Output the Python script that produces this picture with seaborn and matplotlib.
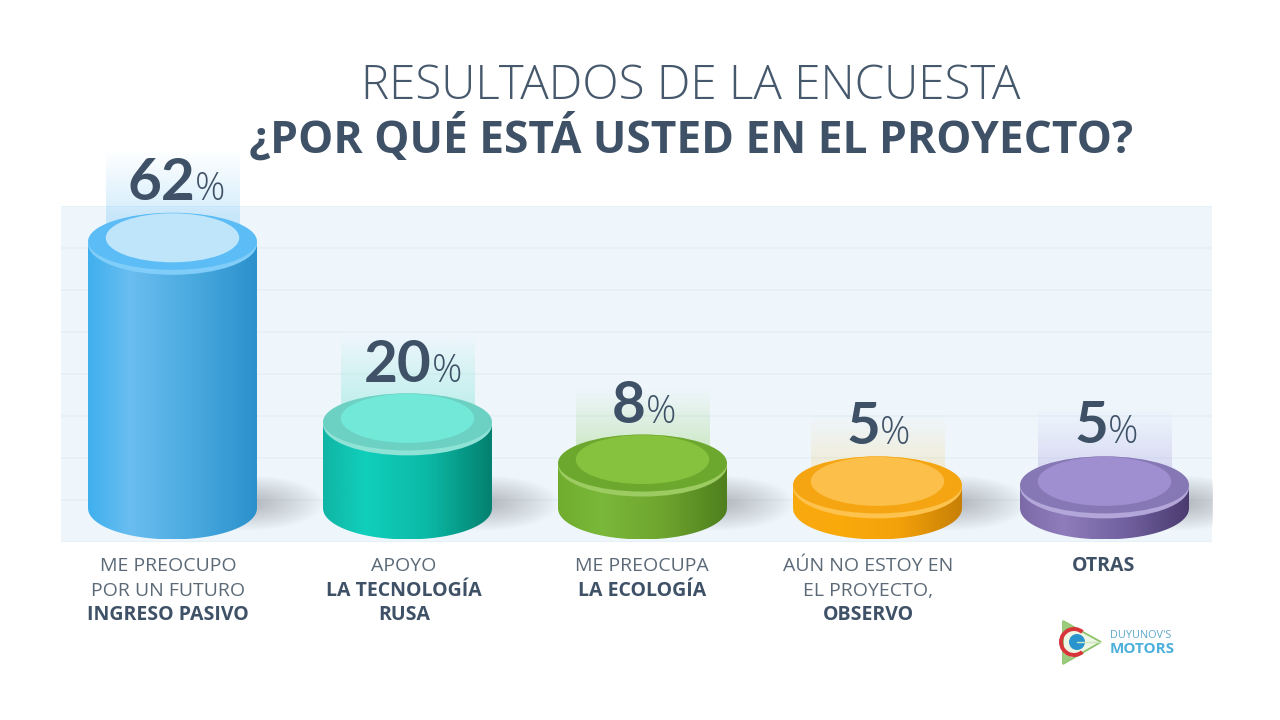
import numpy as np
import pandas as pd
import matplotlib
matplotlib.use("Agg")
import matplotlib.pyplot as plt
import seaborn as sns
from matplotlib.colors import LinearSegmentedColormap, to_rgb
from matplotlib.patches import Ellipse, Circle, Polygon, Wedge
from matplotlib.path import Path

# ---- data ----
categories = ["Ingreso pasivo", "Tecnología rusa", "Ecología", "Observo", "Otras"]
percent_labels = [62, 20, 8, 5, 5]
drawn_heights = [63, 20, 10.2, 5, 5]      # cylinders in the source are not to scale
category_pos = [0, 1, 2, 3, 3.966]
label_lines = [
    [("ME PREOCUPO", False), ("POR UN FUTURO", False), ("INGRESO PASIVO", True)],
    [("APOYO", False), ("LA TECNOLOGÍA", True), ("RUSA", True)],
    [("ME PREOCUPA", False), ("LA ECOLOGÍA", True)],
    [("AÚN NO ESTOY EN", False), ("EL PROYECTO,", False), ("OBSERVO", True)],
    [("OTRAS", True)],
]
title_1 = "RESULTADOS DE LA ENCUESTA"
title_2 = "¿POR QUÉ ESTÁ USTED EN EL PROYECTO?"

# ---- style ----
side_stops = [
    ["#3fb0ee", "#6abdf0", "#4aaadf", "#2b90cc"],
    ["#10b5a5", "#10cfbb", "#0bb9a6", "#04806f"],
    ["#70ad2f", "#7ab83a", "#6ea52e", "#4f7f1e"],
    ["#f8a90f", "#fbaa0c", "#f4a20a", "#c77f05"],
    ["#7c6aa8", "#8e7dba", "#7261a0", "#4a3b6f"],
]
cap_edge = ["#7fcdf8", "#8fe3d6", "#9ccb62", "#fdc34e", "#b3a6d8"]
cap_outer = ["#5bbcf6", "#6cd0c2", "#6da82e", "#f5a511", "#8678b4"]
cap_inner = ["#bfe5fb", "#72e8d8", "#86c23e", "#fbbf4a", "#a08fd0"]
glow_col = ["#8fd0f7", "#86e6d8", "#a6d884", "#f4dca0", "#b9b2e6"]
glow_top = [94, 90, 78, 72, 77]
DARK = "#3e5166"
GREY = "#5c6a78"
plt_dpi = 100
PX_Y = 4.2          # pixels per y unit
PX_X = 235.0        # pixels per x unit

sns.set_theme(style="white")
plt.rcParams["font.family"] = ["Open Sans", "DejaVu Sans"]

fig = plt.figure(figsize=(12.8, 7.2), dpi=plt_dpi, facecolor="white")
ax = fig.add_axes([61 / 1280, (720 - 542) / 720, 1151 / 1280, 336 / 720])
ax.set_facecolor("#eef6fc")

df = pd.DataFrame({"cat": categories, "pos": category_pos, "h": drawn_heights})
sns.barplot(data=df, x="pos", y="h", hue="cat", palette=[s[2] for s in side_stops],
            dodge=False, native_scale=True, width=0.744, legend=False, ax=ax, zorder=2)

XLIM = (-(172.5 - 61) / PX_X, (1212 - 172.5) / PX_X)
YLIM = (-8, 72)
ry = 31 / PX_Y

bars = sorted(ax.patches, key=lambda p: p.get_x())
for i, bar in enumerate(bars):
    x0, w, h = bar.get_x(), bar.get_width(), bar.get_height()
    xc = x0 + w / 2
    rx = w / 2
    col = side_stops[i]
    bar.set_edgecolor("none")

    # side gradient clipped to the cylinder outline
    t = np.linspace(np.pi, 2 * np.pi, 80)
    outline = np.vstack([
        np.column_stack([xc + rx * np.cos(t), ry * np.sin(t)]),
        [[x0 + w, h]], [[x0, h]], [[x0, 0]],
    ])
    cmap = LinearSegmentedColormap.from_list(
        f"s{i}", list(zip([0, 0.25, 0.62, 1], col)))
    im = ax.imshow(np.linspace(0, 1, 256)[None, :], extent=(x0, x0 + w, -ry, h),
                   cmap=cmap, aspect="auto", zorder=3, interpolation="bilinear")
    im.set_clip_path(Path(outline), transform=ax.transData)

    # cap
    ax.add_patch(Ellipse((xc, h), w, 2 * ry, fc=cap_edge[i], ec="none", zorder=4))
    ax.add_patch(Ellipse((xc, h + 2.5 / PX_Y), w, 2 * ry - 5 / PX_Y,
                         fc=cap_outer[i], ec="none", zorder=4.1))
    ax.add_patch(Ellipse((xc, h + 6 / PX_Y), w * 0.79, 2 * ry - 13 / PX_Y,
                         fc=cap_inner[i], ec="none", zorder=4.2))

    # soft shadow right of the cylinder
    sx = x0 + w - 8 / PX_X
    sy = 5 / PX_Y
    sa, sb = (68 if i == 4 else 75) / PX_X, 28 / PX_Y
    gx, gy = np.meshgrid(np.linspace(-1, 1, 200), np.linspace(-1, 1, 120))
    alpha = np.clip(1 - np.hypot(gx, gy), 0, 1) ** 0.9 * 0.62
    rgba = np.zeros(alpha.shape + (4,))
    rgba[..., :3] = to_rgb("#8c8f96")
    rgba[..., 3] = alpha
    ax.imshow(rgba, extent=(sx - sa, sx + sa, sy - sb, sy + sb),
              aspect="auto", zorder=1.5, interpolation="bilinear")

    # glow above the cap
    gw = 67 / PX_X
    rgba = np.zeros((100, 2, 4))
    rgba[..., :3] = to_rgb(glow_col[i])
    rgba[..., 3] = np.linspace(0, 0.55, 100)[:, None]
    g = ax.imshow(rgba, extent=(xc - gw, xc + gw, h, h + glow_top[i] / PX_Y),
                  aspect="auto", zorder=1.7, interpolation="bilinear")
    g.set_clip_on(False)

ax.set_xlim(*XLIM)
ax.set_ylim(*YLIM)
ax.set_yticks(np.arange(-8, 73, 10))
ax.set_xticks([])
ax.set_yticklabels([])
ax.set_xlabel("")
ax.set_ylabel("")
ax.tick_params(length=0)
ax.grid(axis="y", color="#e4eff7", lw=1.2, zorder=0)
ax.set_axisbelow(True)
sns.despine(ax=ax, left=True, bottom=True)
ax.spines["top"].set_visible(False)


def fx(px):
    return px / 1280


def fy(py):
    return 1 - py / 720


# titles
fig.text(fx(691), fy(99), title_1, ha="center", va="baseline", fontsize=34.2,
         fontweight="light", color="#46596c")
fig.text(fx(691), fy(153), title_2, ha="center", va="baseline", fontsize=31.9,
         fontweight="bold", color=DARK)

# percentage labels
split_x = [195, 432, 646, 880, 1108]
baseline = [200, 382, 423, 444, 443]
for v, sx, by in zip(percent_labels, split_x, baseline):
    fig.text(fx(sx), fy(by), str(v), ha="right", va="baseline", fontsize=42,
             fontweight="bold", family=["Lato", "DejaVu Sans"], color=DARK, zorder=6)
    fig.text(fx(sx), fy(by), "%", ha="left", va="baseline", fontsize=27,
             fontweight="light", color=DARK, zorder=6)

# category labels
label_x = [168, 404, 642, 868, 1104]
line_y = [571, 596, 620]
for lines, lx in zip(label_lines, label_x):
    for (txt, bold), ly in zip(lines, line_y):
        fig.text(fx(lx), fy(ly), txt, ha="center", va="baseline", fontsize=14,
                 fontweight="bold" if bold else "regular",
                 color=DARK if bold else GREY)

# logo
lg = fig.add_axes([1055 / 1280, (720 - 670) / 720, 50 / 1280, 54 / 720])
lg.set_xlim(1055, 1105)
lg.set_ylim(670, 616)
lg.axis("off")
lg.add_patch(Polygon([(1063, 621), (1063, 664), (1101, 642)], closed=True,
                     fc="#eef6e4", ec="#8cc36a", lw=1.3))
lg.add_patch(Polygon([(1063, 621), (1063, 632), (1073, 627)], closed=True, fc="#9bcb7d", ec="none"))
lg.add_patch(Polygon([(1063, 664), (1063, 653), (1073, 658)], closed=True, fc="#9bcb7d", ec="none"))
lg.add_patch(Wedge((1074, 642), 15, -310, -50, width=4, fc="#d8353a", ec="none"))
lg.add_patch(Circle((1077, 642), 8, fc="#2a94cf", ec="none"))
lg.plot([1077, 1100], [642, 642], color="#cfe6c0", lw=1)
fig.text(fx(1110), fy(638), "DUYUNOV'S", ha="left", va="baseline", fontsize=7.8,
         fontweight="regular", color="#5fa8c9")
fig.text(fx(1110), fy(653), "MOTORS", ha="left", va="baseline", fontsize=11,
         fontweight="bold", color="#4bb0dc")

fig.savefig("out.png", dpi=plt_dpi, facecolor="white")
